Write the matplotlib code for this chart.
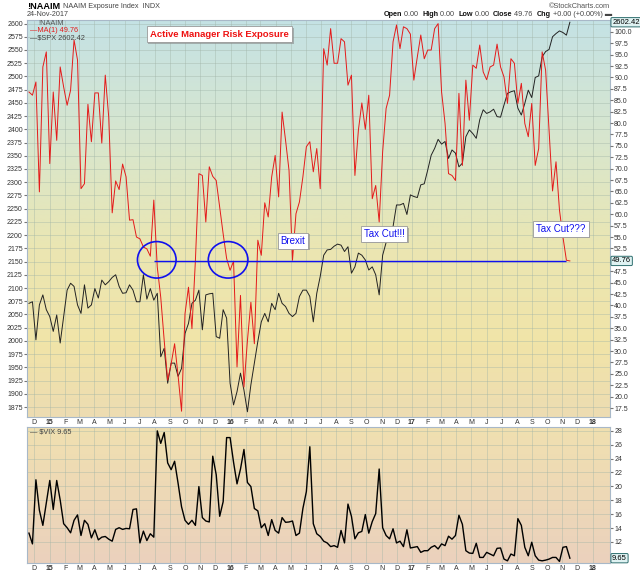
import numpy as np
import pandas as pd
import matplotlib
matplotlib.use("Agg")
import matplotlib.pyplot as plt
import matplotlib.dates as mdates
import matplotlib.patheffects as pe
from matplotlib.patches import Ellipse
from matplotlib.colors import LinearSegmentedColormap
from matplotlib.offsetbox import TextArea, HPacker, AnnotationBbox

plt.rcParams['font.family'] = ['Liberation Sans', 'DejaVu Sans']

# weekly NAAIM exposure index
naaim = [86.8, 86.1, 89.0, 64.9, 92.3, 95.6, 71.1, 86.8, 76.2, 92.3, 87.9, 83.9, 87.2, 98.2, 93.8,
         65.6, 66.7, 84.1, 75.9, 86.6, 86.6, 75.6, 90.5, 81.3, 60.3, 67.3, 65.4, 71.0, 68.2, 58.7,
         58.8, 55.0, 54.6, 52.8, 52.4, 50.8, 63.1, 48.4, 41.8, 32.3, 23.6, 27.2, 31.6, 24.6, 16.8,
         38.2, 44.0, 34.9, 49.9, 68.9, 68.5, 58.3, 70.4, 68.3, 67.4, 61.6, 55.7, 50.3, 47.7, 49.7,
         26.5, 42.2, 22.1, 32.3, 40.7, 31.6, 54.3, 51.0, 62.5, 59.4, 68.2, 72.9, 63.8, 82.4, 76.2,
         69.6, 49.9, 60.1, 62.7, 68.2, 74.8, 75.9, 69.3, 74.4, 65.6,
         96.3, 92.7, 100.7, 93.1, 93.1, 98.5, 97.8, 88.3, 90.5, 68.5, 78.4, 84.4, 78.6, 86.1, 63.4,
         66.3, 58.3, 73.7, 83.2, 86.1, 97.8, 101.5, 96.3, 101.1, 100.7, 99.5, 89.4, 94.5, 99.3, 94.1,
         96.0, 96.0, 100.7, 101.8, 86.8, 79.9, 68.9, 68.5, 67.4, 86.5, 70.7,
         89.4, 80.6, 92.7, 92.0, 97.1, 91.2, 89.5, 92.3, 92.7, 97.3, 92.3, 90.1, 84.3, 94.1, 93.1,
         84.3, 88.7, 79.9, 77.0, 84.3, 70.7, 74.4, 95.6, 91.6, 78.4, 65.1, 71.5, 60.9, 55.0, 49.9,
         49.76]

spx = [2071, 2074, 2002, 2068, 2087, 2059, 2046, 2018, 2049, 1996, 2046, 2096, 2109, 2103, 2068,
       2052, 2106, 2062, 2068, 2099, 2081, 2115, 2106, 2112, 2120, 2125, 2103, 2090, 2091, 2106,
       2096, 2074, 2074, 2125, 2079, 2099, 2077, 2090, 1970, 1986, 1920, 1958, 1958,
       1933, 1948, 2014, 2033, 2071, 2077, 2096, 2021, 2087, 2089, 2090, 2008, 2005, 2059, 2043,
       1920, 1879, 1904, 1939, 1907, 1866, 1917, 1958, 1999, 2036, 2052, 2036, 2071, 2059, 2090,
       2071, 2065, 2052, 2046, 2052, 2084, 2096, 2096, 2084, 2036, 2090, 2122,
       2162, 2172, 2173, 2179, 2183, 2181, 2169, 2178, 2128, 2140, 2166, 2162, 2153, 2134, 2140,
       2125, 2087, 2162, 2186, 2203, 2216, 2257, 2257, 2260, 2239, 2276, 2273, 2271, 2295, 2297,
       2323, 2351, 2364, 2381, 2372, 2377, 2345, 2361, 2355, 2329, 2336,
       2386, 2399, 2392, 2383, 2418, 2437, 2430, 2433, 2438, 2424, 2423, 2446, 2468, 2471, 2473,
       2440, 2427, 2449, 2474, 2460, 2498, 2501, 2537, 2547, 2551, 2575, 2581, 2586, 2583, 2578,
       2602.42]

vix = [13.26, 11.71, 20.95, 16.57, 14.38, 17.64, 20.85, 16.67, 20.85, 18.03, 14.62, 14.04, 13.31,
       15.11, 15.89, 12.92, 15.11, 14.53, 12.58, 13.75, 12.29, 12.68, 12.78, 12.39, 12.10, 13.80,
       14.04, 13.80, 13.94, 13.89, 16.67, 16.76, 11.85, 13.55, 12.19, 13.17, 12.68, 28.0, 26.2,
       27.76, 23.38, 22.41, 23.62, 20.46, 17.06, 15.11, 14.53, 15.11, 14.38, 19.97, 15.50, 15.01,
       14.87, 24.35, 21.68, 15.69, 17.79, 27.03, 27.03, 23.48, 20.36, 22.50, 25.32, 20.56, 19.97,
       16.81, 16.47, 14.04, 14.62, 12.92, 15.21, 13.65, 13.26, 15.50, 14.82, 14.87, 15.01, 12.92,
       13.26, 16.81, 19.25, 25.71, 14.62, 13.17, 12.78, 12.10, 11.85, 11.32, 11.46, 11.22, 13.65,
       11.85, 17.45, 15.69, 12.44, 13.31, 13.51, 15.94, 13.26, 14.92, 16.08, 22.50, 14.04, 12.92,
       12.44, 13.89, 11.85, 12.10, 11.32, 13.75, 11.12, 11.22, 11.32, 10.49, 10.73, 10.73, 11.22,
       11.46, 10.98, 11.71, 11.46, 12.82, 12.39, 12.92, 15.84, 14.53, 10.73, 10.39, 10.34, 11.80,
       9.76, 9.76, 10.49, 10.25, 10.00, 11.07, 11.12, 9.52, 9.27, 10.25, 10.00, 15.35, 14.38, 11.22,
       10.00, 11.95, 10.00, 9.37, 9.27, 9.37, 9.52, 9.76, 9.76, 9.18, 11.22, 11.32, 9.65]

last_day = '2017-11-16'
d_naaim = pd.date_range(end=last_day, periods=len(naaim), freq='7D')
d_spx = pd.date_range(end=last_day, periods=len(spx), freq='7D')
d_vix = pd.date_range(end=last_day, periods=len(vix), freq='7D')

months = pd.date_range('2014-12-01', '2018-01-01', freq='MS')
month_labels = [f"{m.year % 100}" if m.month == 1 else m.strftime('%b')[0] for m in months]

naaim_ticks = np.arange(17.5, 100.1, 2.5)
# the last-value box hides the 50.0 label, as in the original
naaim_labels = ['' if abs(v - 50) < 0.01 else f"{v:.1f}" for v in naaim_ticks]


def fx(px):
    return px / 640


def fy(py):
    return 1 - py / 576


fig = plt.figure(figsize=(6.4, 5.76), dpi=100)
fig.patch.set_facecolor('white')

ax = fig.add_axes([fx(27), fy(416.7), fx(583), 397.2 / 576])
ax2 = ax.twinx()
axv = fig.add_axes([fx(27), fy(562.7), fx(583), 136 / 576], sharex=ax)

# background gradients
main_cmap = LinearSegmentedColormap.from_list(
    'main', [(0, '#eddcb2'), (0.18, '#f1e4a8'), (0.42, '#ebe6b2'), (0.68, '#d9e6cc'), (1, '#c4e2e5')])
vix_cmap = LinearSegmentedColormap.from_list('vix', [(0, '#ebd1bd'), (1, '#f0e0b0')])
grad = np.linspace(0, 1, 256).reshape(-1, 1)
ax.imshow(grad, extent=(0, 1, 0, 1), transform=ax.transAxes, origin='lower',
          aspect='auto', cmap=main_cmap, zorder=0)
axv.imshow(grad, extent=(0, 1, 0, 1), transform=axv.transAxes, origin='lower',
           aspect='auto', cmap=vix_cmap, zorder=0)

ax.plot(d_spx, spx, color='#222222', lw=0.7, zorder=3)
ax2.plot(d_naaim, naaim, color='#e41a1a', lw=0.7, zorder=3)
axv.plot(d_vix, vix, color='black', lw=1.0, zorder=3)

xmin, xmax = pd.Timestamp('2014-11-16'), pd.Timestamp('2018-02-05')
ax.set_xlim(xmin, xmax)
ax.set_ylim(1856.7, 2607.6)
ax2.set_ylim(15.6, 102.7)
axv.set_ylim(9.0, 28.6)

grid_kw = dict(color='#9fb3a6', lw=0.5, alpha=0.55)
for a in (ax, axv):
    a.set_xticks(months)
    a.set_xticklabels(month_labels)
    a.grid(True, **grid_kw)
    a.set_axisbelow(True)
    a.tick_params(axis='x', length=0, pad=1.5, labelsize=5, labelcolor='#333333')
    for lab in a.get_xticklabels():
        if lab.get_text().isdigit():
            lab.set_fontweight('bold')
    for s in a.spines.values():
        s.set_color('#a8b8c8')
        s.set_linewidth(0.8)

ax.set_yticks(np.arange(1875, 2601, 25))
ax.tick_params(axis='y', length=2, pad=1, labelsize=5, labelcolor='#333333', color='#777777')
ax2.set_yticks(naaim_ticks)
ax2.set_yticklabels(naaim_labels)
ax2.tick_params(axis='y', length=2, pad=1, labelsize=5, labelcolor='#333333', color='#777777')
for s in ax2.spines.values():
    s.set_visible(False)

axv.yaxis.tick_right()
axv.set_yticks(np.arange(12, 29, 2))
axv.tick_params(axis='y', length=2, pad=1, labelsize=5, labelcolor='#333333', color='#777777')

# last-value boxes on the right axis
box = dict(boxstyle='round,pad=0.15', fc='#dff2f2', ec='#2f6f6f', lw=0.7)
ax.annotate(f"{spx[-1]:.2f}", xy=(1.0, spx[-1]), xycoords=('axes fraction', 'data'),
            xytext=(1.5, 0), textcoords='offset points', ha='left', va='center',
            fontsize=5.5, bbox=box, annotation_clip=False)
ax2.annotate(f"{naaim[-1]:.2f}", xy=(1.0, naaim[-1]), xycoords=('axes fraction', 'data'),
             xytext=(1.5, 0), textcoords='offset points', ha='left', va='center',
             fontsize=5.5, bbox=box, annotation_clip=False)
axv.annotate(f"{vix[-1]:.2f}", xy=(1.0, vix[-1]), xycoords=('axes fraction', 'data'),
             xytext=(1.5, 0), textcoords='offset points', ha='left', va='center',
             fontsize=5.5, bbox=box, annotation_clip=False)

# blue annotations
blue = '#1010ee'
ax2.hlines(naaim[-1], d_naaim[36], d_naaim[-2], color=blue, lw=1.0, zorder=4)
for c, w, h in [('2015-08-05', 78, 8.0), ('2015-12-27', 80, 8.0)]:
    ax2.add_patch(Ellipse((mdates.date2num(pd.Timestamp(c)), 50.0), w, h,
                          fill=False, ec=blue, lw=1.2, zorder=5))

shadow = [pe.withSimplePatchShadow(offset=(1.2, -1.2), shadow_rgbFace='#888888', alpha=0.6)]
for txt, day, val in [('Brexit', '2016-05-06', 54.2), ('Tax Cut!!!', '2016-11-06', 55.7),
                      ('Tax Cut???', '2017-10-29', 56.8)]:
    t = ax2.text(pd.Timestamp(day), val, txt, color=blue, fontsize=7, ha='center', va='center',
                 zorder=6, bbox=dict(boxstyle='square,pad=0.3', fc='white', ec='#999999', lw=0.6))
    t.get_bbox_patch().set_path_effects(shadow)

t = ax.text(0.33, 0.963, 'Active Manager Risk Exposure', transform=ax.transAxes, color='#ee1111',
            fontsize=6.8, fontweight='bold', ha='center', va='center', zorder=6,
            bbox=dict(boxstyle='square,pad=0.35', fc='white', ec='#999999', lw=0.6))
t.get_bbox_patch().set_path_effects(shadow)

# legends inside the panels
fig.text(fx(38), fy(23.5), '!NAAIM', fontsize=5.3, color='#555555', va='center')
fig.text(fx(30), fy(31), '\u2014MA(1) 49.76', fontsize=5.3, color='#e41a1a', va='center')
fig.text(fx(30), fy(38.5), '\u2014$SPX 2602.42', fontsize=5.3, color='#444444', va='center')
fig.text(fx(30), fy(431.5), '\u2014 $VIX 9.65', fontsize=5.3, color='#444444', va='center')

# header
fig.text(fx(27), fy(6.5), '!NAAIM', fontsize=6.6, fontweight='bold', va='center')
fig.text(fx(63), fy(6.5), 'NAAIM Exposure Index  INDX', fontsize=5.2, color='#444444', va='center')
fig.text(fx(27), fy(14.5), '24-Nov-2017', fontsize=5.2, color='#444444', va='center')
fig.text(fx(610), fy(6), '\u00a9StockCharts.com', fontsize=5.3, color='#555555', ha='right', va='center')

parts = [('Open', True), (' 0.00  ', False), ('High', True), (' 0.00  ', False), ('Low', True),
         (' 0.00  ', False), ('Close', True), (' 49.76  ', False), ('Chg', True),
         (' +0.00 (+0.00%) \u25ac', False)]
areas = [TextArea(s, textprops=dict(fontsize=5.2, fontweight='bold' if b else 'normal',
                                    color='#111111' if b else '#444444')) for s, b in parts]
pack = HPacker(children=areas, pad=0, sep=0, align='baseline')
fig.add_artist(AnnotationBbox(pack, (fx(612), fy(14.5)), xycoords='figure fraction',
                              box_alignment=(1, 0.5), frameon=False, pad=0))

fig.savefig('out.png', dpi=100)
